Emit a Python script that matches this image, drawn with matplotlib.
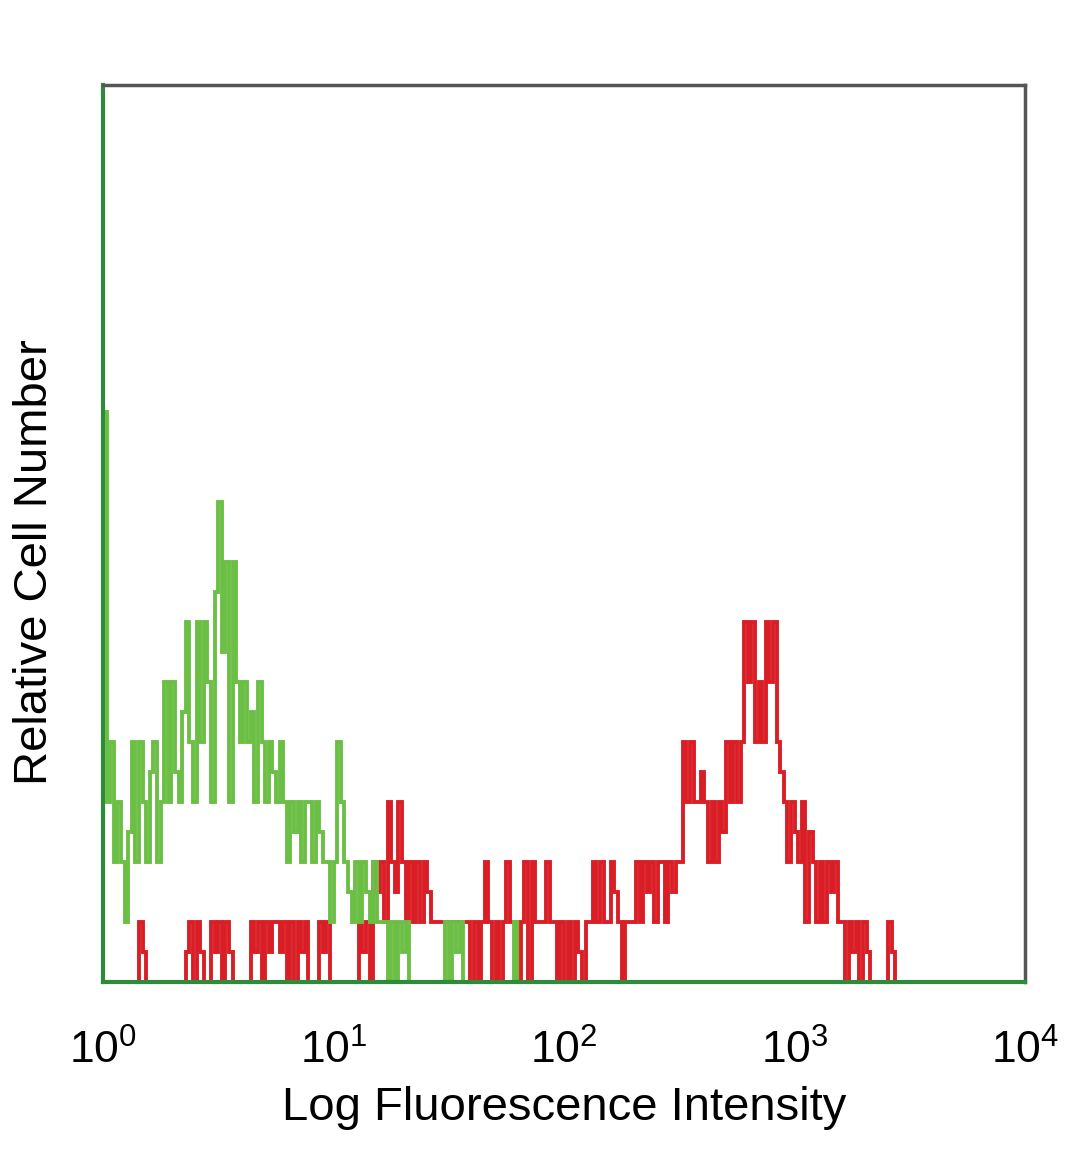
import matplotlib.pyplot as plt
import numpy as np

# Contagens por canal (256 canais em 4 décadas)
green_counts = [19, 6, 8, 4, 6, 4, 2, 5, 8, 4, 8, 6, 4, 7, 8, 4, 6, 10, 6, 10,
                7, 6, 9, 12, 8, 6, 12, 8, 12, 10, 6, 13, 16, 11, 14, 6, 14, 10, 8, 10,
                8, 9, 6, 10, 8, 6, 8, 7, 6, 8, 6, 4, 6, 5, 6, 4, 6, 6, 4, 6,
                5, 4, 4, 2, 4, 8, 6, 4, 3, 2, 4, 2, 4, 3, 2, 4, 2, 2, 2, 0,
                2, 0, 2, 1, 2, 0, 0, 0, 0, 0, 0, 0, 0, 0, 0, 2, 0, 2, 1, 2,
                0, 0, 0, 0, 0, 0, 0, 0, 0, 0, 0, 0, 0, 0, 2, 0]
red_counts = [0, 0, 0, 0, 0, 0, 0, 0, 0, 0, 2, 1, 0, 0, 0, 0, 0, 0, 0, 0,
              0, 0, 0, 1, 2, 0, 2, 1, 0, 0, 2, 1, 2, 0, 2, 1, 0, 0, 0, 0,
              0, 2, 1, 2, 0, 2, 1, 2, 2, 1, 2, 0, 2, 0, 2, 1, 2, 0, 0, 0,
              2, 1, 2, 0, 0, 0, 0, 0, 0, 0, 0, 2, 1, 2, 0, 4, 3, 4, 2, 6,
              4, 3, 6, 4, 2, 4, 2, 4, 2, 4, 3, 2, 2, 2, 2, 2, 2, 2, 2, 2,
              2, 2, 0, 2, 0, 2, 4, 2, 0, 2, 0, 2, 4, 2, 2, 0, 2, 4, 0, 4,
              2, 2, 2, 4, 2, 2, 0, 2, 0, 2, 0, 2, 1, 0, 2, 2, 4, 2, 4, 2,
              2, 4, 3, 2, 0, 2, 2, 2, 4, 2, 4, 3, 4, 2, 4, 4, 2, 4, 3, 4,
              4, 8, 6, 8, 6, 6, 7, 6, 4, 6, 4, 6, 5, 8, 6, 8, 6, 8, 12, 10,
              12, 8, 10, 8, 12, 10, 12, 8, 7, 6, 4, 6, 5, 4, 6, 2, 5, 4, 2, 4,
              2, 4, 3, 4, 2, 2, 0, 2, 1, 2, 0, 2, 1, 0, 0, 0, 0, 0, 2, 1,
              0]
channels_per_decade = 64
x_ticks = [1, 10, 100, 1000, 10000]
x_ticklabels = [r'$10^{0}$', r'$10^{1}$', r'$10^{2}$', r'$10^{3}$', r'$10^{4}$']

plt.rcParams['font.family'] = ['Liberation Sans', 'DejaVu Sans']
plt.rcParams['mathtext.fontset'] = 'custom'
plt.rcParams['mathtext.rm'] = 'Liberation Sans'
plt.rcParams['mathtext.it'] = 'Liberation Sans'

fig = plt.figure(figsize=(10.8, 11.69), dpi=100)
ax = fig.add_axes([0.0954, 0.16, 0.8537, 0.7673])

# Histogramas em degraus
g_edges = 10 ** (np.arange(len(green_counts) + 1) / channels_per_decade)
r_edges = 10 ** (np.arange(len(red_counts) + 1) / channels_per_decade)
ax.stairs(red_counts, r_edges, baseline=0, color='#d91e26', linewidth=2.8)
ax.stairs(green_counts, g_edges, baseline=0, color='#6cbf45', linewidth=2.8)

ax.set_xscale('log')
ax.set_xlim(1, 10000)
ax.set_ylim(0, 29.9)
ax.set_xticks(x_ticks)
ax.set_xticklabels(x_ticklabels, fontsize=32)
ax.minorticks_off()
ax.set_yticks([])
ax.tick_params(axis='x', length=0, pad=34)

ax.set_xlabel('Log Fluorescence Intensity', fontsize=34, labelpad=10)
ax.set_ylabel('Relative Cell Number', fontsize=34)
ax.yaxis.set_label_coords(-0.05, 0.468)

for side in ['top', 'right']:
    ax.spines[side].set_color('#555555')
    ax.spines[side].set_linewidth(2.5)
for side in ['left', 'bottom']:
    ax.spines[side].set_color('#2e8b3a')
    ax.spines[side].set_linewidth(3)

plt.savefig('out.png', dpi=100)
